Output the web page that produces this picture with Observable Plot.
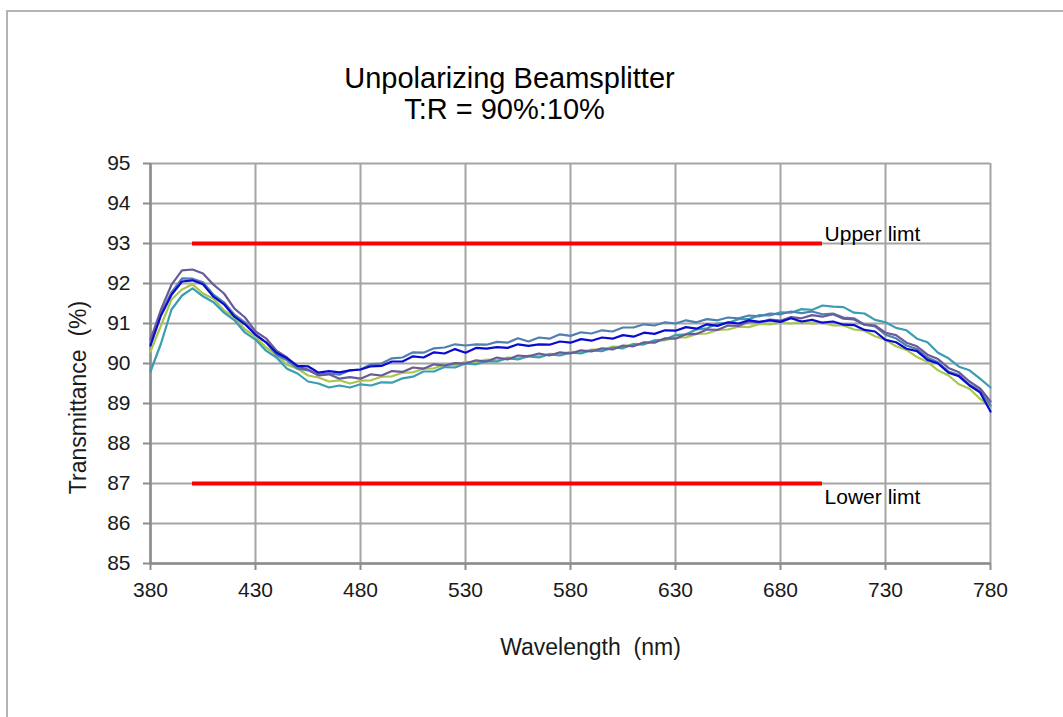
<!DOCTYPE html>
<html><head><meta charset="utf-8">
<script src="https://cdn.jsdelivr.net/npm/d3@7"></script>
<script src="https://cdn.jsdelivr.net/npm/@observablehq/plot@0.6"></script>
<style>
body{margin:0;background:#fff;}
#wrap{position:relative;width:1063px;height:717px;overflow:hidden;background:#fff;}
#border{position:absolute;left:6px;top:10px;width:1100px;height:800px;border-left:2px solid #b4b4b4;border-top:2px solid #b4b4b4;}
#chart{position:absolute;left:0;top:0;}
</style></head><body>
<div id="wrap"><div id="border"></div><div id="chart"></div></div>
<script>
// ---- data ----
const title1 = "Unpolarizing Beamsplitter";
const title2 = "T:R = 90%:10%";
const xLabel = "Wavelength\u00a0 (nm)";
const yLabel = "Transmittance\u00a0 (%)";
const xTicks = [380, 430, 480, 530, 580, 630, 680, 730, 780];
const yTicks = [85, 86, 87, 88, 89, 90, 91, 92, 93, 94, 95];
const wavelengths = d3.range(380, 781, 5);
const seriesNames = ["green", "teal", "steel", "purple", "blue"];
const seriesColors = ["#a8c84c", "#3a9db2", "#4f80b0", "#6b5a98", "#0a0ad2"];
const green = [90.3,90.95,91.6,91.85,91.98,91.75,91.62,91.33,91.15,90.85,90.67,90.4,90.22,89.97,89.87,89.7,89.65,89.55,89.58,89.5,89.57,89.58,89.67,89.68,89.77,89.78,89.87,89.88,89.97,89.96,90.04,90.03,90.1,90.08,90.15,90.13,90.2,90.18,90.24,90.23,90.29,90.28,90.35,90.35,90.42,90.41,90.49,90.48,90.57,90.58,90.65,90.65,90.74,90.75,90.84,90.85,90.92,90.91,90.99,90.98,91.02,91.0,91.05,91.0,91.02,90.95,90.95,90.85,90.82,90.68,90.59,90.43,90.34,90.16,90.04,89.83,89.7,89.48,89.37,89.12,88.9];
const teal = [89.8,90.5,91.35,91.7,91.88,91.68,91.53,91.27,91.08,90.77,90.6,90.32,90.15,89.87,89.75,89.55,89.5,89.4,89.45,89.4,89.48,89.45,89.53,89.52,89.63,89.67,89.8,89.8,89.91,89.9,90.0,89.98,90.06,90.05,90.13,90.1,90.18,90.15,90.23,90.2,90.27,90.25,90.33,90.31,90.4,90.38,90.48,90.48,90.58,90.6,90.71,90.73,90.85,90.88,91.0,91.01,91.11,91.11,91.21,91.2,91.28,91.27,91.36,91.34,91.45,91.42,91.41,91.27,91.25,91.09,91.03,90.89,90.83,90.62,90.53,90.27,90.13,89.92,89.83,89.62,89.4];
const steel = [90.5,91.25,91.78,92.13,92.12,92.03,91.72,91.53,91.22,91.03,90.72,90.53,90.22,90.08,89.87,89.83,89.72,89.75,89.72,89.83,89.85,89.98,90.0,90.13,90.15,90.28,90.27,90.38,90.4,90.48,90.45,90.48,90.47,90.54,90.52,90.63,90.55,90.65,90.62,90.73,90.69,90.78,90.75,90.83,90.8,90.9,90.9,90.98,90.95,91.03,91.0,91.08,91.03,91.11,91.08,91.15,91.13,91.2,91.18,91.25,91.23,91.3,91.26,91.3,91.23,91.25,91.15,91.13,90.97,90.93,90.72,90.63,90.45,90.36,90.15,90.03,89.8,89.71,89.47,89.33,88.95];
const purple = [90.6,91.35,91.97,92.33,92.35,92.25,91.97,91.75,91.37,91.15,90.8,90.63,90.32,90.15,89.92,89.85,89.7,89.73,89.62,89.66,89.62,89.73,89.7,89.81,89.79,89.9,89.87,89.98,89.95,90.01,90.0,90.08,90.05,90.15,90.1,90.2,90.18,90.25,90.2,90.28,90.25,90.33,90.3,90.38,90.35,90.45,90.43,90.53,90.52,90.63,90.62,90.73,90.74,90.85,90.84,90.95,90.94,91.05,91.03,91.1,91.07,91.16,91.13,91.21,91.17,91.23,91.12,91.1,90.97,90.95,90.77,90.71,90.52,90.43,90.22,90.11,89.89,89.78,89.55,89.38,89.05];
const blue = [90.45,91.2,91.72,92.05,92.08,91.98,91.67,91.48,91.17,90.98,90.72,90.53,90.27,90.13,89.94,89.93,89.77,89.81,89.78,89.83,89.85,89.93,89.94,90.05,90.05,90.18,90.15,90.28,90.25,90.36,90.27,90.39,90.37,90.41,90.39,90.48,90.44,90.48,90.47,90.55,90.52,90.61,90.57,90.65,90.62,90.71,90.67,90.77,90.74,90.83,90.82,90.91,90.87,90.98,90.94,91.03,91.0,91.08,91.04,91.08,91.04,91.13,91.05,91.09,91.02,91.05,90.97,90.96,90.84,90.8,90.59,90.53,90.37,90.31,90.09,90.0,89.77,89.68,89.45,89.28,88.8];
const seriesValues = [green, teal, steel, purple, blue];
const limitValues = [93, 87];
const limitLabels = ["Upper limt", "Lower limt"];
const limitStart = 400, limitEnd = 700;
const limitLabelX = 701;
const limitLabelY = [93.22, 86.65];

// ---- chart ----
const gridColor = "#a4a4a4";
const axisColor = "#8c8c8c";
const lineMarks = seriesValues.map((vals, k) =>
  Plot.line(wavelengths, {x: d => d, y: (d, i) => vals[i], stroke: seriesColors[k], strokeWidth: 2.2})
);

const chart = Plot.plot({
  width: 1063, height: 717,
  marginLeft: 150, marginRight: 73, marginTop: 163, marginBottom: 154,
  style: {fontFamily: "'Liberation Sans', Arial, sans-serif", color: "#1a1a1a", background: "transparent", overflow: "visible"},
  x: {domain: [380, 780]},
  y: {domain: [85, 95]},
  marks: [
    Plot.gridX(xTicks, {stroke: gridColor, strokeOpacity: 1, strokeWidth: 2}),
    Plot.gridY(yTicks, {stroke: gridColor, strokeOpacity: 1, strokeWidth: 2}),
    Plot.axisX(xTicks, {tickSize: 7, tickPadding: 12, stroke: axisColor, strokeWidth: 2, fontSize: 21, label: null, tickFormat: d => String(d)}),
    Plot.axisY(yTicks, {tickSize: 7, tickPadding: 13, stroke: axisColor, strokeWidth: 2, fontSize: 21, label: null, tickFormat: d => String(d)}),
    Plot.ruleY([85], {stroke: axisColor, strokeWidth: 2.5}),
    Plot.ruleX([380], {stroke: axisColor, strokeWidth: 2.5}),
    Plot.ruleY(limitValues, {y: d => d, x1: () => limitStart, x2: () => limitEnd, stroke: "#ff0000", strokeWidth: 4}),
    ...lineMarks,
    Plot.text(limitLabels, {x: () => limitLabelX, y: (d, i) => limitLabelY[i], text: d => d, textAnchor: "start", fontSize: 21, fill: "#000"}),
    Plot.text([title1], {frameAnchor: "top", dx: -61, dy: -96, text: d => d, fontSize: 29, fill: "#000"}),
    Plot.text([title2], {frameAnchor: "top", dx: -66, dy: -65, text: d => d, fontSize: 29, fill: "#000"}),
    Plot.text([xLabel], {frameAnchor: "bottom", dx: 20, dy: 91, text: d => d, fontSize: 23, fill: "#1a1a1a"}),
    Plot.text([yLabel], {frameAnchor: "left", textAnchor: "middle", dx: -72, dy: 34, rotate: -90, text: d => d, fontSize: 23, fill: "#1a1a1a"})
  ]
});
document.getElementById("chart").appendChild(chart);
</script>
</body></html>
